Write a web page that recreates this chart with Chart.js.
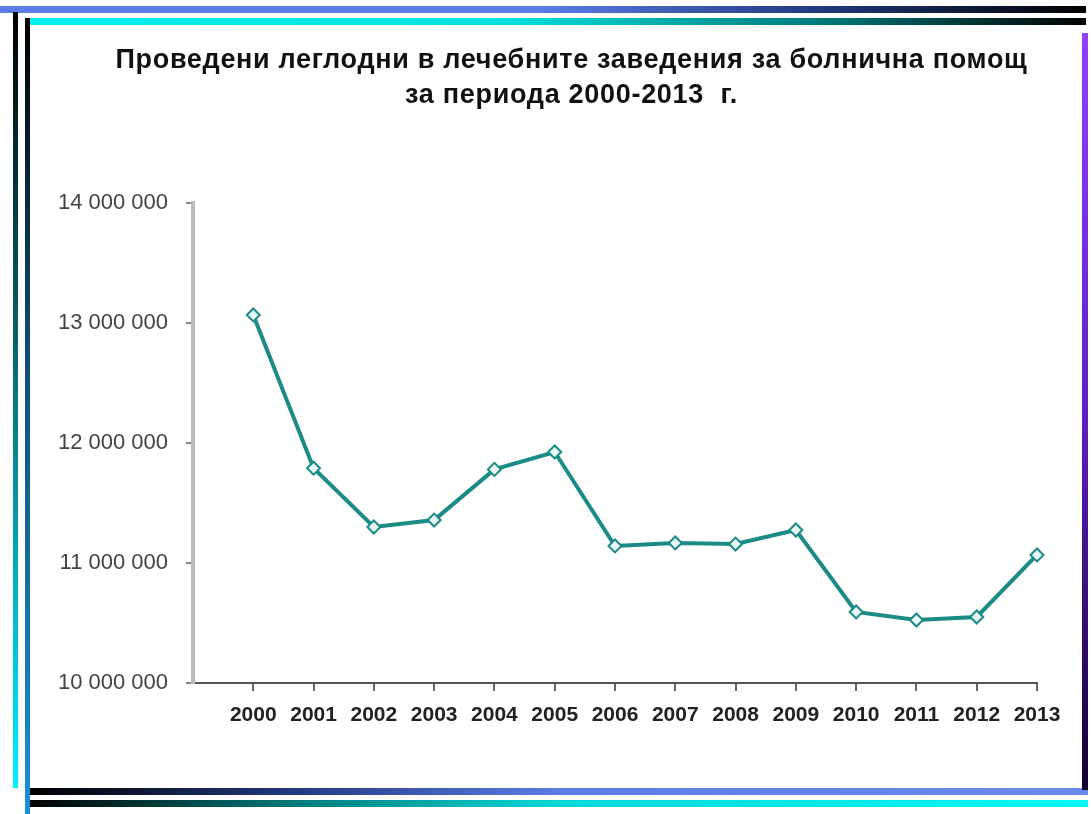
<!DOCTYPE html>
<html>
<head>
<meta charset="utf-8">
<script src="https://cdn.jsdelivr.net/npm/chart.js@4"></script>
<style>
  body { margin: 0; background: #fff; }
  #wrap { position: relative; width: 1091px; height: 814px; overflow: hidden; }
  #chart { position: absolute; left: 0; top: 0; }
  .title { position: absolute; left: 0; width: 1143px; text-align: center;
           font: bold 27px "Liberation Sans", Arial, sans-serif; letter-spacing: 0.7px; color: #111; }
  .bar { position: absolute; }
</style>
</head>
<body>
<div id="wrap">
  <canvas id="chart" width="1091" height="814"></canvas>
  <div class="title" style="top:44px;">Проведени леглодни в лечебните заведения за болнична помощ</div>
  <div class="title" style="top:79px;">за периода 2000-2013&nbsp; г.</div>

  <!-- decorative frame -->
  <div class="bar" style="left:0;top:6px;width:1086px;height:7px;background:linear-gradient(to right,#5a7de6 0%,#5a7de6 50%,#233a80 75%,#000 100%);"></div>
  <div class="bar" style="left:28px;top:18px;width:1058px;height:7px;background:linear-gradient(to right,#00f0f0 0%,#00e0e0 45%,#007a7a 75%,#000 100%);"></div>
  <div class="bar" style="left:13px;top:12px;width:5px;height:776px;background:linear-gradient(to bottom,#000 0%,#0a6a70 45%,#00f0ff 100%);"></div>
  <div class="bar" style="left:25px;top:18px;width:5px;height:796px;background:linear-gradient(to bottom,#000 0%,#0e4a70 40%,#1a90d8 100%);"></div>
  <div class="bar" style="left:30px;top:788px;width:1058px;height:7px;background:linear-gradient(to right,#000 0%,#233a80 25%,#5a7de6 50%,#6a8aee 100%);"></div>
  <div class="bar" style="left:30px;top:800px;width:1058px;height:7px;background:linear-gradient(to right,#000 0%,#007a7a 25%,#00d8d8 50%,#00f8f8 100%);"></div>
  <div class="bar" style="left:1082px;top:33px;width:6px;height:757px;background:linear-gradient(to bottom,#9040ff 0%,#6020c0 50%,#100030 100%);"></div>
</div>
<script>
const years = [2000, 2001, 2002, 2003, 2004, 2005, 2006, 2007, 2008, 2009, 2010, 2011, 2012, 2013];
const bedDays = [13067000, 11790000, 11300000, 11358000, 11780000, 11925000, 11142000,
                 11167000, 11158000, 11275000, 10592000, 10525000, 10550000, 11067000];
const yTicks = [10000000, 11000000, 12000000, 13000000, 14000000];

function fmtSpaces(v) {
  return String(v).replace(/\B(?=(\d{3})+(?!\d))/g, " ");
}

const ctx = document.getElementById("chart").getContext("2d");
new Chart(ctx, {
  type: "line",
  data: {
    datasets: [{
      data: years.map((y, i) => ({ x: y, y: bedDays[i] })),
      borderColor: "#1b8b86",
      borderWidth: 4,
      pointStyle: "rectRot",
      pointRadius: 6.5,
      pointBorderWidth: 2,
      pointBorderColor: "#1b8b86",
      pointBackgroundColor: "#e6f7f5",
      tension: 0,
      clip: false
    }]
  },
  options: {
    responsive: false,
    animation: false,
    layout: { padding: { left: 0, right: 54, top: 203, bottom: 0 } },
    plugins: { legend: { display: false }, tooltip: { enabled: false } },
    scales: {
      x: {
        type: "linear",
        min: 1999,
        max: 2013,
        afterFit: s => { s.height = 131; },
        afterBuildTicks: s => { s.ticks = years.map(v => ({ value: v })); },
        ticks: {
          autoSkip: false,
          maxRotation: 0,
          padding: 12,
          color: "#222",
          font: { family: "Liberation Sans", size: 21, weight: "bold" },
          callback: v => String(v)
        },
        grid: { drawOnChartArea: false, drawTicks: true, tickLength: 8, color: "#666", lineWidth: 2 },
        border: { color: "#555", width: 2 }
      },
      y: {
        min: 10000000,
        max: 14000000,
        afterFit: s => { s.width = 193; },
        afterBuildTicks: s => { s.ticks = yTicks.map(v => ({ value: v })); },
        ticks: {
          padding: 18,
          color: "#444",
          font: { family: "Liberation Sans", size: 22 },
          callback: v => fmtSpaces(v)
        },
        grid: { drawOnChartArea: false, drawTicks: true, tickLength: 7, color: "#888", lineWidth: 2 },
        border: { color: "#bbb", width: 4 }
      }
    }
  }
});
</script>
</body>
</html>
